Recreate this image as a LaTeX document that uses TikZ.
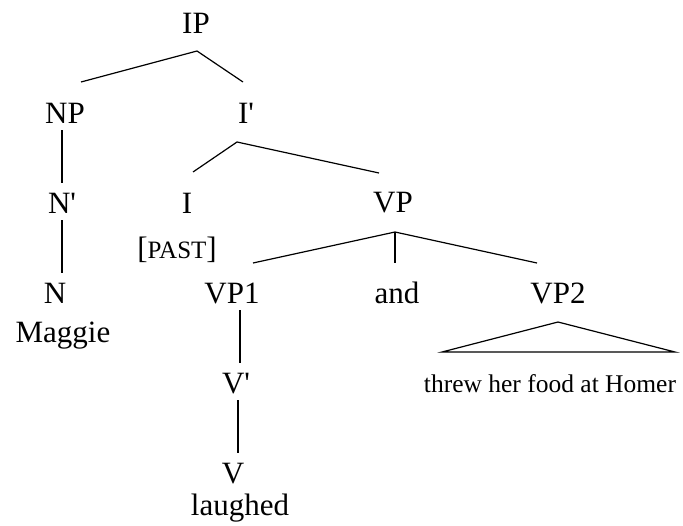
\documentclass[tikz,border=0pt]{standalone}
\usepackage{fontspec}
\setmainfont{Liberation Serif}
\usetikzlibrary{calc, positioning}

\begin{document}
\begin{tikzpicture}[x=1pt, y=-1pt, thick]
  % Define styles
  \tikzstyle{cat} = [anchor=base, inner sep=0pt, font=\fontsize{31}{36}\selectfont]
  \tikzstyle{word} = [anchor=base, inner sep=0pt, font=\fontsize{25.5}{30}\selectfont]
  \tikzstyle{branch} = [draw, line width=1.2pt]

  \useasboundingbox (0,0) rectangle (683,525);

  % Place nodes
  \node [cat] (ip) at (196,33) {IP};
  \node [cat] (np) at (65,123) {NP};
  \node [cat] (ibar) at (246,123) {I\textquotesingle};
  \node [cat] (nbar) at (62,213) {N\textquotesingle};
  \node [cat] (i) at (187,213) {I};
  \node [cat] (vp) at (393,212) {VP};
  \node [cat] (past) at (177,258) {[{\fontsize{25}{30}\selectfont PAST}]};
  \node [cat] (n) at (55,303) {N};
  \node [cat] (maggie) at (63,342) {Maggie};
  \node [cat] (vpone) at (232,303) {VP1};
  \node [cat] (and) at (397,303) {and};
  \node [cat] (vptwo) at (558,303) {VP2};
  \node [word] (threw) at (550,392) {threw her food at Homer};
  \node [cat] (vbar) at (236,393) {V\textquotesingle};
  \node [cat] (v) at (233,483) {V};
  \node [cat] (laughed) at (240,515) {laughed};

  % Draw edges
  \path [branch] ([shift={(16,-41)}]np.base) -- ([shift={(1,18)}]ip.base) -- ([shift={(-3,-41)}]ibar.base);
  \path [branch] ([shift={(-3,7)}]np.base) -- ([shift={(0,-30)}]nbar.base);
  \path [branch] ([shift={(6,-41)}]i.base) -- ([shift={(-9,19)}]ibar.base) -- ([shift={(-14,-39)}]vp.base);
  \path [branch] ([shift={(0,7)}]nbar.base) -- ([shift={(7,-30)}]n.base);
  \path [branch] ([shift={(21,-40)}]vpone.base) -- ([shift={(2,20)}]vp.base) -- ([shift={(-21,-40)}]vptwo.base);
  \path [branch] ([shift={(2,20)}]vp.base) -- ([shift={(-2,-40)}]and.base);
  \path [branch] ([shift={(8,7)}]vpone.base) -- ([shift={(4,-30)}]vbar.base);
  \path [branch] ([shift={(2,7)}]vbar.base) -- ([shift={(5,-30)}]v.base);
  \path [branch] ([shift={(0,19)}]vptwo.base) -- ([shift={(-108,-40)}]threw.base) -- ([shift={(125,-40)}]threw.base) -- cycle;
\end{tikzpicture}
\end{document}
